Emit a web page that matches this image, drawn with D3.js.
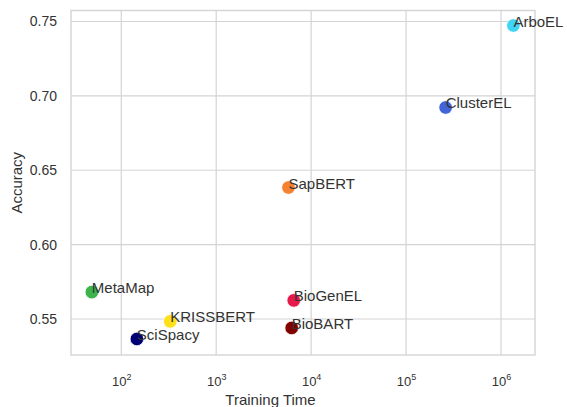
<!DOCTYPE html>
<html>
<head>
<meta charset="utf-8">
<script src="https://cdn.jsdelivr.net/npm/d3@7"></script>
<style>
  body { margin: 0; background: #fff; }
  svg text { font-family: "Liberation Sans", Arial, sans-serif; fill: #333; }
</style>
</head>
<body>
<div id="chart"></div>
<script>
var svgWidth = 567;
var svgHeight = 407;

// data
var models = ["ArboEL", "ClusterEL", "SapBERT", "MetaMap", "BioGenEL", "KRISSBERT", "BioBART", "SciSpacy"];
var trainingTime = [1.35e6, 2.61e5, 5770, 49, 6560, 328, 6240, 146];
var accuracy = [0.7473, 0.6922, 0.6384, 0.5681, 0.5625, 0.5484, 0.5440, 0.5366];
var colors = ["#42d4f4", "#4363d8", "#f58231", "#3cb44b", "#e6194b", "#ffe119", "#800000", "#000075"];
var xTicks = [1e2, 1e3, 1e4, 1e5, 1e6];
var yTicks = [0.55, 0.60, 0.65, 0.70, 0.75];

var margin = { top: 10.5, right: 32, bottom: 52, left: 71 };
var chartWidth = svgWidth - margin.left - margin.right;
var chartHeight = svgHeight - margin.top - margin.bottom;

var svg = d3.select("#chart").append("svg")
  .attr("width", svgWidth)
  .attr("height", svgHeight);

var chartGroup = svg.append("g")
  .attr("transform", `translate(${margin.left}, ${margin.top})`);

var xScale = d3.scaleLog()
  .domain([Math.pow(10, 1.4705), Math.pow(10, 6.358)])
  .range([0, chartWidth]);

var yScale = d3.scaleLinear()
  .domain([0.5258, 0.7574])
  .range([chartHeight, 0]);

// grid
chartGroup.selectAll(".xgrid").data(xTicks).enter().append("line")
  .attr("x1", d => xScale(d)).attr("x2", d => xScale(d))
  .attr("y1", 0).attr("y2", chartHeight)
  .attr("stroke", "#d4d4d4").attr("stroke-width", 1.2);

chartGroup.selectAll(".ygrid").data(yTicks).enter().append("line")
  .attr("x1", 0).attr("x2", chartWidth)
  .attr("y1", d => yScale(d)).attr("y2", d => yScale(d))
  .attr("stroke", "#d4d4d4").attr("stroke-width", 1.2);

chartGroup.append("rect")
  .attr("width", chartWidth).attr("height", chartHeight)
  .attr("fill", "none").attr("stroke", "#d4d4d4").attr("stroke-width", 1.4);

// axes (tick labels only, seaborn whitegrid style)
var yAxis = d3.axisLeft(yScale).tickValues(yTicks).tickSize(0).tickPadding(14)
  .tickFormat(d3.format(".2f"));
var yg = chartGroup.append("g").call(yAxis);
yg.select(".domain").remove();
yg.selectAll("text").style("font-size", "14px").attr("fill", "#333");

var xAxis = d3.axisBottom(xScale).tickValues(xTicks).tickSize(0).tickPadding(0).tickFormat("");
var xg = chartGroup.append("g").attr("transform", `translate(0, ${chartHeight})`).call(xAxis);
xg.select(".domain").remove();
xg.selectAll(".tick").each(function(d) {
  var t = d3.select(this).append("text")
    .attr("y", 31)
    .attr("text-anchor", "middle")
    .style("font-size", "13px");
  t.append("tspan").text("10");
  t.append("tspan").attr("dy", -6).style("font-size", "9px").text(Math.round(Math.log10(d)));
});

// points
var rows = models.map((m, i) => ({ name: m, t: trainingTime[i], a: accuracy[i], c: colors[i] }));

chartGroup.selectAll("circle").data(rows).enter().append("circle")
  .attr("cx", d => xScale(d.t))
  .attr("cy", d => yScale(d.a))
  .attr("r", 6.8)
  .attr("fill", d => d.c)
  .attr("stroke", "#fff")
  .attr("stroke-width", 0.8);

chartGroup.selectAll(".lbl").data(rows).enter().append("text")
  .attr("class", "lbl")
  .attr("x", d => xScale(d.t))
  .attr("y", d => yScale(d.a) + 1)
  .style("font-size", "15px")
  .text(d => d.name);

// axis titles
svg.append("text")
  .attr("transform", `translate(${svgWidth / 2 - 13}, 405)`)
  .attr("text-anchor", "middle")
  .style("font-size", "15px")
  .text("Training Time");

svg.append("text")
  .attr("transform", `translate(22, ${margin.top + chartHeight / 2}) rotate(-90)`)
  .attr("text-anchor", "middle")
  .style("font-size", "15px")
  .text("Accuracy");
</script>
</body>
</html>
